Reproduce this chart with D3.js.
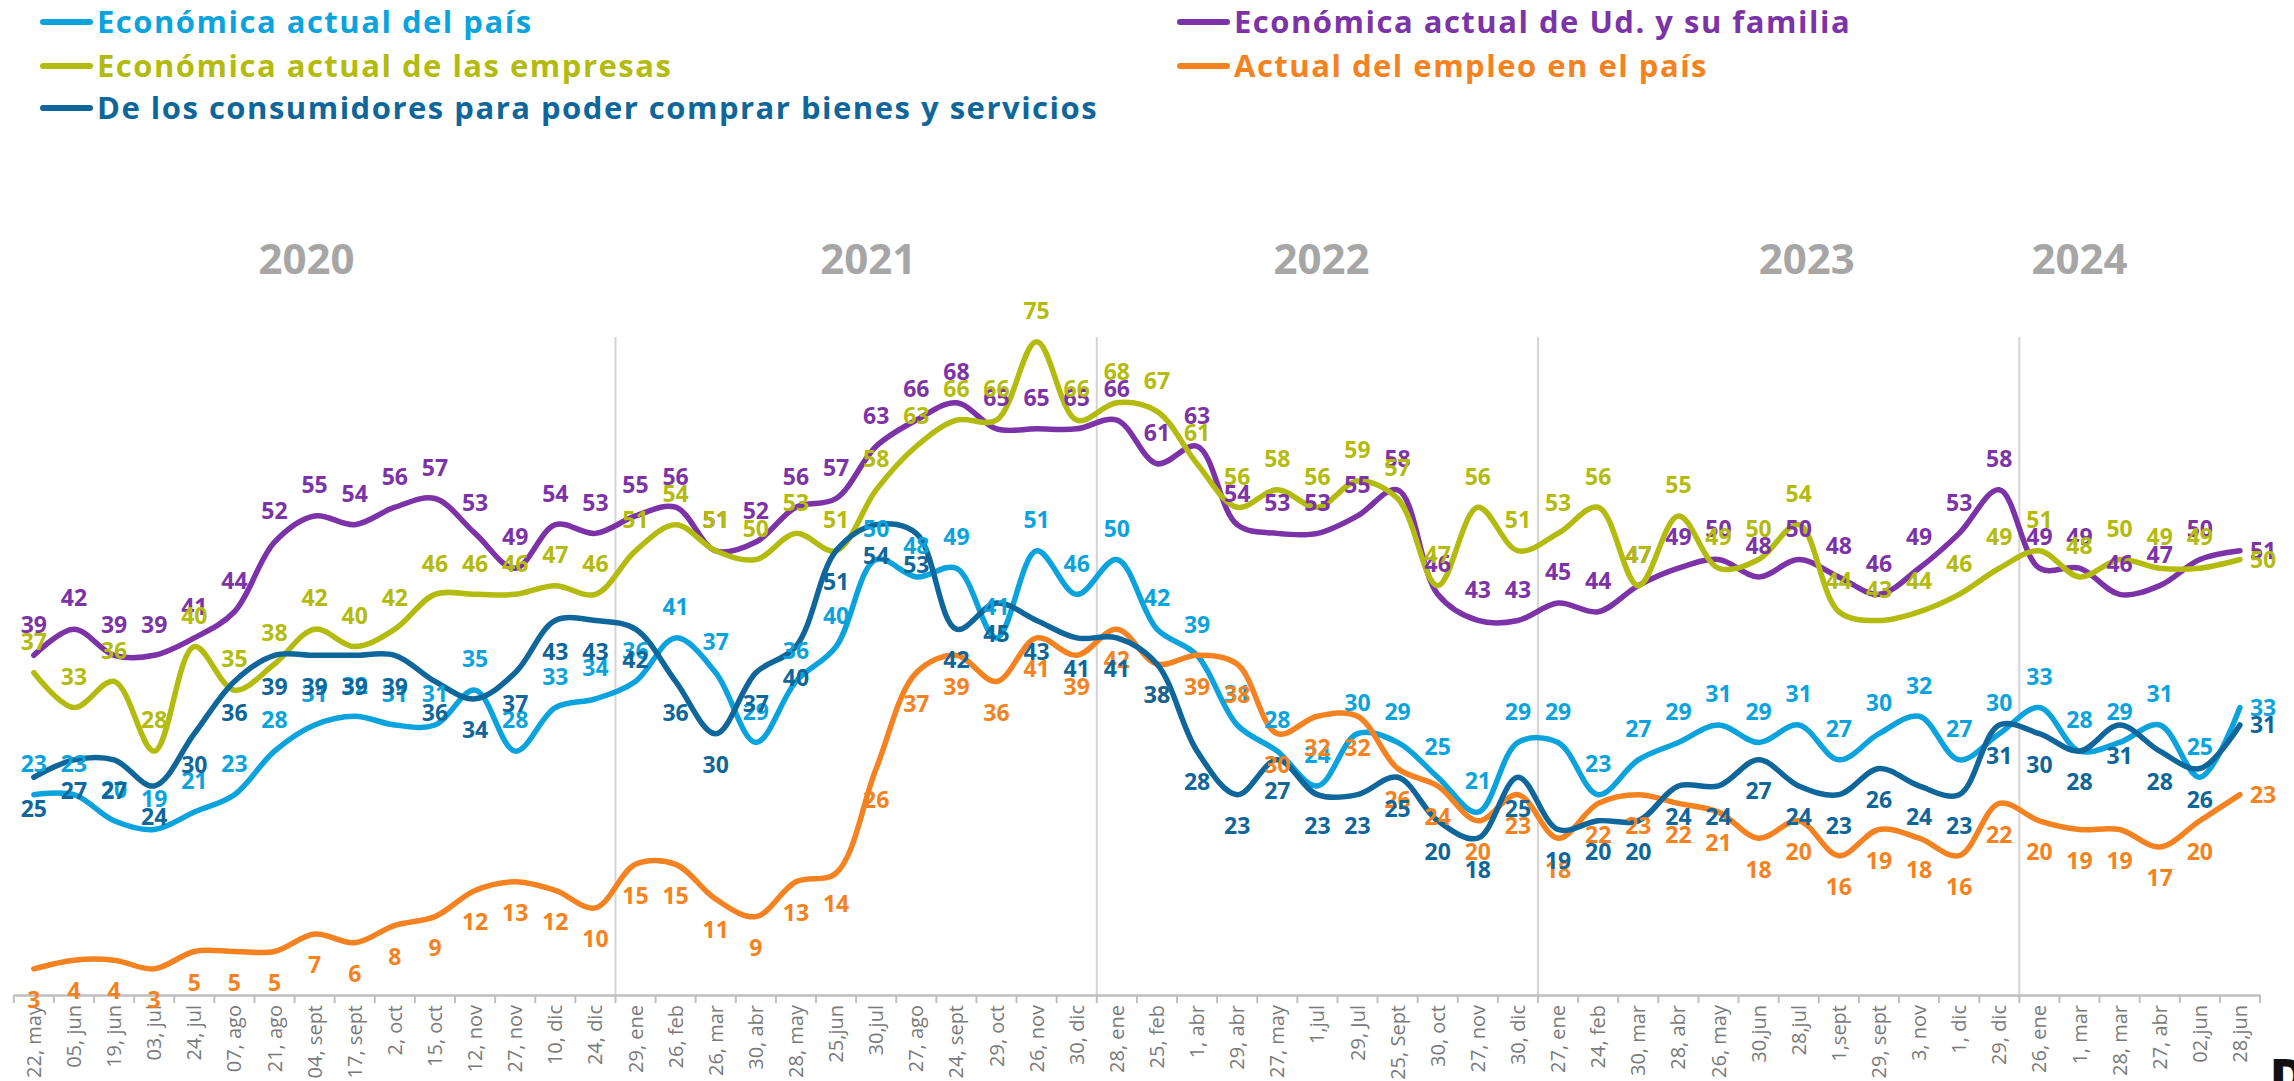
<!DOCTYPE html>
<html><head><meta charset="utf-8">
<script src="https://cdn.jsdelivr.net/npm/d3@7"></script>
<style>body{margin:0;background:#fff;overflow:hidden;} svg{display:block;}</style>
</head><body><svg id="c" width="2294" height="1081"></svg>
<script>
const categories = [
 "22, may","05, jun","19, jun","03, jul","24, jul","07, ago","21, ago","04, sept","17, sept","2, oct","15, oct","12, nov","27, nov","10, dic","24, dic",
 "29, ene","26, feb","26, mar","30, abr","28, may","25,jun","30,jul","27, ago","24, sept","29, oct","26, nov","30, dic",
 "28, ene","25, feb","1, abr","29, abr","27, may","1,jul","29, Jul","25, Sept","30, oct","27, nov","30, dic",
 "27, ene","24, feb","30, mar","28, abr","26, may","30,jun","28,jul","1,sept","29, sept","3, nov","1, dic","29, dic",
 "26, ene","1, mar","28, mar","27, abr","02,jun","28,jun"];
const yearNames = ["2020","2021","2022","2023","2024"];
const yearCounts = [15,12,11,12,6];
const yearLabelAt = [7.3,21.3,32.6,44.7,51.5];

const pais = [23,23,20,19,21,23,28,31,32,31,31,35,28,33,34,
 36,41,37,29,36,40,50,48,49,41,51,46,
 50,42,39,31,28,24,30,29,25,21,29,
 29,23,27,29,31,29,31,27,30,32,27,30,
 33,28,29,31,25,33];
const familia = [39,42,39,39,41,44,52,55,54,56,57,53,49,54,53,
 55,56,51,52,56,57,63,66,68,65,65,65,
 66,61,63,54,53,53,55,58,46,43,43,
 45,44,47,49,50,48,50,48,46,49,53,58,
 49,49,46,47,50,51];
const empresas = [37,33,36,28,40,35,38,42,40,42,46,46,46,47,46,
 51,54,51,50,53,51,58,63,66,66,75,66,
 68,67,61,56,58,56,59,57,47,56,51,
 53,56,47,55,49,50,54,44,43,44,46,49,
 51,48,50,49,49,50];
const empleo = [3,4,4,3,5,5,5,7,6,8,9,12,13,12,10,
 15,15,11,9,13,14,26,37,39,36,41,39,
 42,38,39,38,30,32,32,26,24,20,23,
 18,22,23,22,21,18,20,16,19,18,16,22,
 20,19,19,17,20,23];
const consumidores = [25,27,27,24,30,36,39,39,39,39,36,34,37,43,43,
 42,36,30,37,40,51,54,53,42,45,43,41,
 41,38,28,23,27,23,23,25,20,18,25,
 19,20,20,24,24,27,24,23,26,24,23,31,
 30,28,31,28,26,31];

const seriesNames = ["Económica actual del país","Económica actual de Ud. y su familia","Económica actual de las empresas","Actual del empleo en el país","De los consumidores para poder comprar bienes y servicios"];

const series = [
  {name: seriesNames[0], values: pais, color: "#0BA3DD", pos: "above"},
  {name: seriesNames[1], values: familia, color: "#7D33A8", pos: "above"},
  {name: seriesNames[2], values: empresas, color: "#B3BB0E", pos: "above"},
  {name: seriesNames[3], values: empleo, color: "#F58220", pos: "below"},
  {name: seriesNames[4], values: consumidores, color: "#0E669A", pos: "below"}
];

const svg = d3.select("#c");
const axisY = 995, left = 13.8, right = 2260;
const x = d3.scaleBand().domain(d3.range(categories.length)).range([left, right]).padding(0);
const xi = d3.scaleLinear().domain([0, categories.length]).range([left, right]);
const y = d3.scaleLinear().domain([0, 80]).range([axisY, axisY - 80*8.71]);
const cx = i => x(i) + x.bandwidth()/2;

// year separators
let cum = 0;
const seps = [];
yearCounts.forEach((c, k) => { if (k > 0) seps.push(cum); cum += c; });
svg.append("g").selectAll("line").data(seps).join("line")
  .attr("x1", d => xi(d)).attr("x2", d => xi(d))
  .attr("y1", 337).attr("y2", axisY)
  .attr("stroke", "#d4d4d4").attr("stroke-width", 2);

// year labels
svg.append("g").selectAll("text").data(yearNames).join("text")
  .attr("x", (d, k) => xi(yearLabelAt[k])).attr("y", 274)
  .attr("text-anchor", "middle")
  .attr("font-family", "'Open Sans', sans-serif").attr("font-weight", 700)
  .attr("font-size", 42).attr("fill", "#A6A6A6").text(d => d);

// axis
const ax = svg.append("g").attr("transform", `translate(0,${axisY})`)
  .call(d3.axisBottom(x).tickSize(0).tickFormat(i => categories[i]));
ax.select(".domain").attr("stroke", "#bfbfbf").attr("stroke-width", 2.5);
ax.selectAll(".tick text")
  .attr("transform", "rotate(-90)")
  .attr("text-anchor", "end")
  .attr("x", -10).attr("y", 0).attr("dy", "0.35em")
  .attr("font-family", "'Open Sans', sans-serif").attr("font-size", 20)
  .attr("fill", "#7a7a7a");
svg.append("g").selectAll("line").data(d3.range(categories.length + 1)).join("line")
  .attr("x1", d => xi(d)).attr("x2", d => xi(d))
  .attr("y1", axisY).attr("y2", axisY + 8)
  .attr("stroke", "#bfbfbf").attr("stroke-width", 2);

// lines
const line = d3.line().x((d, i) => cx(i)).y(d => y(d)).curve(d3.curveCatmullRom.alpha(0.5));
svg.append("g").selectAll("path").data(series).join("path")
  .attr("d", s => line(s.values))
  .attr("fill", "none").attr("stroke", s => s.color)
  .attr("stroke-width", 5.5).attr("stroke-linecap", "round").attr("stroke-linejoin", "round");

// labels
const n = categories.length;
series.forEach(s => {
  svg.append("g").selectAll("text").data(s.values).join("text")
    .attr("x", (d, i) => i === n - 1 ? cx(i) + 10 : cx(i))
    .attr("y", (d, i) => i === n - 1 ? y(d) : (s.pos === "above" ? y(d) - 31 : y(d) + 31))
    .attr("dy", "0.36em")
    .attr("text-anchor", (d, i) => i === n - 1 ? "start" : "middle")
    .attr("font-family", "'Open Sans', sans-serif").attr("font-weight", 700)
    .attr("font-size", 23).attr("fill", s.color)
    .text(d => d);
});

// legend
const legend = [
  {s: series[0], x: 41, y: 22},
  {s: series[1], x: 1178, y: 22},
  {s: series[2], x: 41, y: 66},
  {s: series[3], x: 1178, y: 66},
  {s: series[4], x: 41, y: 108}
];
const lg = svg.append("g").selectAll("g").data(legend).join("g")
  .attr("transform", d => `translate(${d.x},${d.y})`);
lg.append("line").attr("x1", 2).attr("x2", 49).attr("y1", 0).attr("y2", 0)
  .attr("stroke", d => d.s.color).attr("stroke-width", 6).attr("stroke-linecap", "round");
lg.append("text").attr("x", 56).attr("y", 0).attr("dy", "0.36em")
  .attr("font-family", "'Open Sans', sans-serif").attr("font-weight", 700)
  .attr("font-size", 31).attr("letter-spacing", 1.5)
  .attr("fill", d => d.s.color).text(d => d.s.name);

// cut-off mark bottom right
svg.append("text").attr("x", 2270).attr("y", 1093)
  .attr("font-family", "'Open Sans', sans-serif").attr("font-weight", 800)
  .attr("font-size", 48).attr("fill", "#111").text("D");
</script>
</body></html>
